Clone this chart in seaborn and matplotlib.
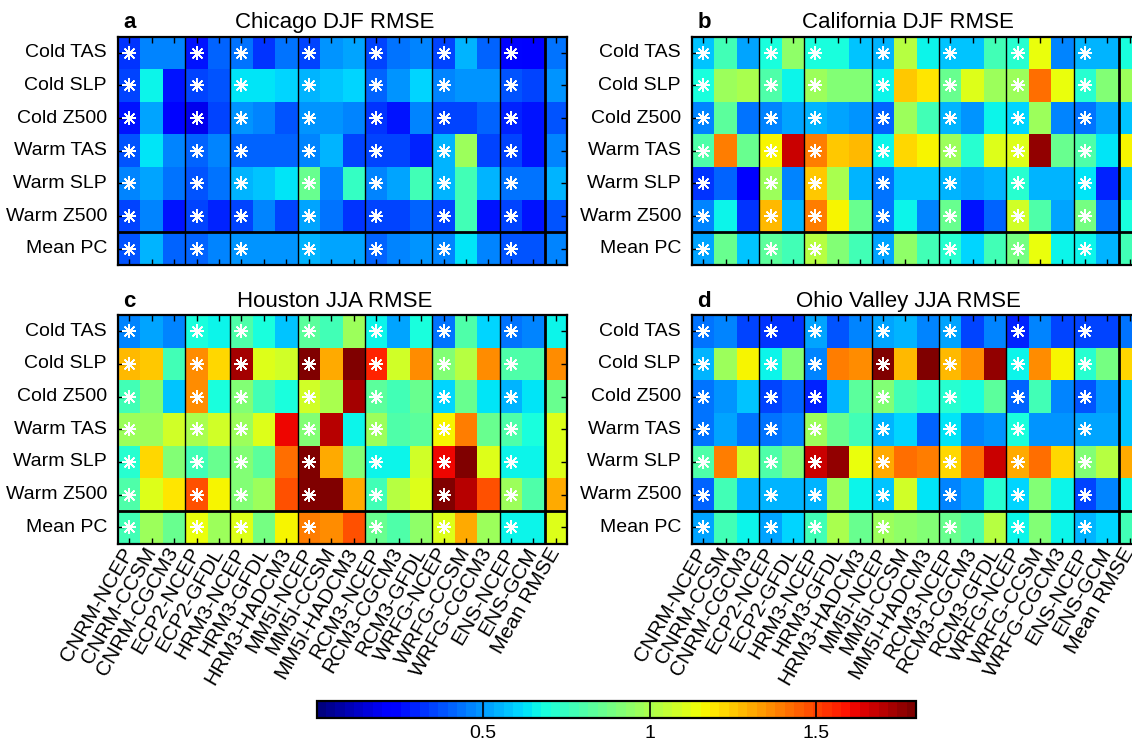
import numpy as np
import matplotlib
matplotlib.use("Agg")
import matplotlib.pyplot as plt
import seaborn as sns

# model columns and rows
models = ['CNRM-NCEP', 'CNRM-CCSM', 'CNRM-CGCM3', 'ECP2-NCEP', 'ECP2-GFDL',
          'HRM3-NCEP', 'HRM3-GFDL', 'HRM3-HADCM3', 'MM5I-NCEP', 'MM5I-CCSM',
          'MM5I-HADCM3', 'RCM3-NCEP', 'RCM3-CGCM3', 'RCM3-GFDL', 'WRFG-NCEP',
          'WRFG-CCSM', 'WRFG-CGCM3', 'ENS-NCEP', 'ENS-GCM', 'Mean RMSE']
group_sizes = [3, 2, 3, 3, 3, 3, 2, 1]
rows = ['Cold TAS', 'Cold SLP', 'Cold Z500', 'Warm TAS', 'Warm SLP', 'Warm Z500', 'Mean PC']

# RMSE values (rows x models)
chicago_djf = [
    [0.33, 0.47, 0.47, 0.27, 0.40, 0.44, 0.32, 0.43, 0.36, 0.49, 0.51, 0.34, 0.43, 0.47, 0.36, 0.54, 0.41, 0.24, 0.20, 0.43],
    [0.36, 0.65, 0.27, 0.36, 0.38, 0.64, 0.64, 0.60, 0.54, 0.58, 0.61, 0.40, 0.49, 0.60, 0.47, 0.49, 0.49, 0.38, 0.34, 0.49],
    [0.26, 0.51, 0.24, 0.17, 0.36, 0.49, 0.45, 0.38, 0.49, 0.49, 0.45, 0.32, 0.27, 0.47, 0.34, 0.36, 0.40, 0.29, 0.27, 0.38],
    [0.38, 0.62, 0.47, 0.40, 0.47, 0.40, 0.40, 0.40, 0.47, 0.56, 0.34, 0.36, 0.34, 0.29, 0.54, 0.97, 0.36, 0.34, 0.27, 0.45],
    [0.45, 0.51, 0.43, 0.38, 0.43, 0.56, 0.58, 0.64, 0.86, 0.47, 0.74, 0.47, 0.51, 0.76, 0.56, 0.78, 0.56, 0.43, 0.43, 0.56],
    [0.34, 0.47, 0.27, 0.36, 0.29, 0.36, 0.45, 0.36, 0.51, 0.43, 0.32, 0.36, 0.34, 0.40, 0.36, 0.78, 0.27, 0.36, 0.27, 0.38],
    [0.38, 0.56, 0.40, 0.40, 0.45, 0.49, 0.49, 0.49, 0.54, 0.51, 0.51, 0.40, 0.45, 0.49, 0.47, 0.64, 0.45, 0.38, 0.38, 0.45],
]
california_djf = [
    [0.58, 0.76, 0.51, 0.70, 0.93, 0.70, 0.70, 0.58, 0.56, 1.04, 0.65, 0.58, 0.58, 0.76, 0.73, 1.15, 0.47, 0.54, 0.56, 0.70],
    [0.70, 0.96, 1.00, 0.80, 0.66, 0.96, 0.90, 0.90, 0.66, 1.25, 1.20, 0.86, 1.10, 0.96, 0.96, 1.42, 1.15, 0.73, 0.90, 0.96],
    [0.45, 0.83, 0.43, 0.45, 0.51, 0.56, 0.51, 0.49, 0.40, 0.96, 0.76, 0.56, 0.49, 0.66, 0.60, 0.96, 0.45, 0.43, 0.51, 0.58],
    [0.80, 1.40, 0.86, 1.17, 1.68, 1.40, 1.25, 1.27, 0.66, 1.23, 1.17, 0.96, 0.73, 1.10, 1.12, 1.75, 0.86, 0.80, 0.64, 1.18],
    [0.32, 0.40, 0.20, 0.96, 0.45, 1.25, 1.00, 0.54, 0.43, 0.58, 0.58, 0.54, 0.51, 0.54, 0.73, 0.56, 0.56, 0.62, 0.29, 0.58],
    [0.45, 0.66, 0.32, 1.27, 0.56, 1.40, 1.17, 0.86, 0.43, 0.66, 0.47, 0.86, 0.27, 0.40, 1.07, 0.80, 0.51, 0.88, 0.43, 0.70],
    [0.51, 0.86, 0.58, 0.83, 0.76, 1.04, 0.90, 0.76, 0.51, 0.93, 0.78, 0.73, 0.60, 0.76, 0.88, 1.15, 0.66, 0.66, 0.56, 0.78],
]
houston_jja = [
    [0.45, 0.51, 0.47, 0.70, 0.66, 0.80, 0.70, 0.58, 0.83, 0.76, 0.96, 0.66, 0.51, 0.70, 0.43, 0.80, 0.60, 0.43, 0.45, 0.66],
    [1.27, 1.25, 0.76, 1.37, 1.22, 1.73, 1.12, 1.07, 1.80, 1.32, 1.80, 1.55, 1.07, 1.35, 0.90, 1.04, 1.37, 0.80, 0.80, 1.37],
    [0.78, 0.90, 0.58, 1.35, 0.70, 0.90, 0.76, 0.70, 1.07, 1.00, 1.73, 0.83, 0.76, 0.86, 0.60, 0.86, 0.62, 0.54, 0.62, 0.86],
    [0.98, 0.98, 1.07, 1.00, 1.07, 0.96, 1.10, 1.62, 0.90, 1.70, 0.66, 0.96, 0.80, 0.83, 1.17, 1.40, 0.86, 0.80, 0.70, 1.10],
    [0.73, 1.22, 0.90, 0.78, 0.86, 0.90, 0.83, 1.42, 1.78, 1.32, 0.90, 0.66, 0.66, 1.07, 1.62, 1.80, 1.10, 0.66, 0.66, 1.12],
    [0.80, 1.12, 1.20, 1.48, 1.17, 0.90, 0.96, 1.48, 1.80, 1.80, 1.32, 0.78, 1.04, 1.12, 1.80, 1.70, 1.48, 0.96, 0.80, 1.32],
    [0.78, 0.96, 0.86, 1.15, 0.96, 1.10, 0.88, 1.17, 1.40, 1.37, 1.48, 0.86, 0.80, 0.93, 1.12, 1.32, 0.96, 0.66, 0.66, 1.12],
]
ohio_jja = [
    [0.43, 0.47, 0.36, 0.32, 0.32, 0.51, 0.38, 0.45, 0.51, 0.54, 0.45, 0.51, 0.34, 0.45, 0.29, 0.45, 0.34, 0.34, 0.34, 0.43],
    [0.56, 0.96, 1.17, 0.66, 0.90, 0.47, 1.40, 1.37, 1.80, 1.27, 1.80, 1.27, 1.35, 1.75, 0.66, 1.37, 1.17, 0.73, 0.88, 1.22],
    [0.43, 0.49, 0.58, 0.34, 0.40, 0.29, 0.54, 0.83, 0.90, 0.78, 0.73, 0.73, 0.70, 0.83, 0.40, 0.78, 0.45, 0.38, 0.49, 0.58],
    [0.43, 0.51, 0.43, 0.43, 0.47, 0.96, 0.86, 0.76, 0.54, 0.60, 0.40, 0.62, 0.45, 0.49, 0.70, 0.49, 0.49, 0.51, 0.51, 0.58],
    [0.80, 1.40, 1.07, 0.80, 0.90, 1.68, 1.75, 1.15, 1.30, 1.42, 1.40, 1.22, 1.42, 1.66, 1.32, 1.42, 1.22, 0.90, 1.04, 1.30],
    [0.40, 0.76, 0.54, 0.54, 0.54, 0.54, 0.96, 0.66, 0.58, 1.07, 0.62, 0.47, 0.51, 0.73, 0.60, 0.90, 0.66, 0.36, 0.47, 0.66],
    [0.51, 0.76, 0.66, 0.51, 0.60, 0.76, 1.00, 0.86, 0.96, 0.93, 0.90, 0.86, 0.80, 1.04, 0.66, 0.90, 0.66, 0.56, 0.60, 0.76],
]

panels = [
    ('a', 'Chicago DJF RMSE', chicago_djf),
    ('b', 'California DJF RMSE', california_djf),
    ('c', 'Houston JJA RMSE', houston_jja),
    ('d', 'Ohio Valley JJA RMSE', ohio_jja),
]

# axes boxes in pixels: left, top (figure is 1132 x 740)
W, H = 1132, 740
ax_w, ax_h = 449, 228.5
boxes = [(118, 36.5), (692, 36.5), (118, 315), (692, 315)]

plt.rcParams['font.family'] = ['Liberation Sans', 'DejaVu Sans']
cmap = plt.get_cmap('jet', 64)

fig = plt.figure(figsize=(W / 100, H / 100), dpi=100)

ncep_cols = [i for i, m in enumerate(models) if m.endswith('-NCEP')]
edges = np.cumsum(group_sizes)[:-1]

for k, (letter, title, vals) in enumerate(panels):
    left, top = boxes[k]
    ax = fig.add_axes([left / W, 1 - (top + ax_h) / H, ax_w / W, ax_h / H])
    sns.heatmap(np.array(vals), ax=ax, cmap=cmap, vmin=0, vmax=1.8, cbar=False,
                xticklabels=models, yticklabels=rows, linewidths=0)

    # asterisks (plus + cross) on NCEP-driven runs
    for c in ncep_cols:
        for ang in (0, 45):
            ax.plot([c + 0.5] * len(rows), np.arange(len(rows)) + 0.5, linestyle='none',
                    marker=(4, 2, ang), markersize=10, markeredgewidth=1.1, color='white')

    # group separators
    for e in edges:
        lw = 2.0 if e == edges[-1] else 1.0
        ax.axvline(e, color='black', lw=lw)
    ax.axhline(len(rows) - 1, color='black', lw=2.0)

    for sp in ax.spines.values():
        sp.set_visible(True)
        sp.set_linewidth(1.6)
        sp.set_color('black')

    ax.tick_params(axis='both', which='both', direction='in', length=4, width=1,
                   top=True, right=True, color='black')
    ax.tick_params(axis='y', labelsize=14, pad=8)
    plt.setp(ax.get_yticklabels(), rotation=0)
    if k < 2:
        ax.set_xticklabels([])
    else:
        ax.tick_params(axis='x', labelsize=15, pad=4)
        plt.setp(ax.get_xticklabels(), rotation=60, ha='right', va='center',
                 rotation_mode='anchor')

    ax.text(0.012, 1.015, letter, transform=ax.transAxes, fontsize=16,
            fontweight='bold', ha='left', va='bottom')
    ax.text(0.482, 1.015, title, transform=ax.transAxes, fontsize=16,
            ha='center', va='bottom')

# colorbar
cax = fig.add_axes([316.5 / W, 1 - 718 / H, 599.5 / W, 17 / H])
cb = fig.colorbar(ax.collections[0], cax=cax, orientation='horizontal',
                  ticks=[0.5, 1, 1.5])
cb.ax.set_xticklabels(['0.5', '1', '1.5'])
cb.ax.tick_params(length=0, labelsize=14, pad=5)
cb.outline.set_linewidth(1.6)
for t in [0.5, 1, 1.5]:
    cax.axvline(t, color='black', lw=1.2)

fig.savefig('out.png', dpi=100)
